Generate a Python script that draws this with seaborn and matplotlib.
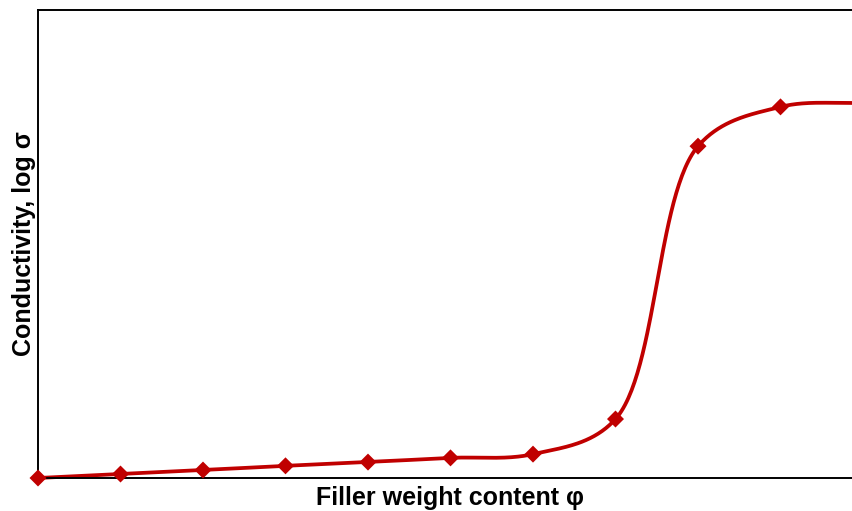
import numpy as np
import pandas as pd
import matplotlib
matplotlib.use("Agg")
import matplotlib.pyplot as plt
import seaborn as sns

# Data
filler = [0, 1, 2, 3, 4, 5, 6, 7, 8, 9, 10]
log_sigma = [0.0, 0.085, 0.17, 0.26, 0.34, 0.43, 0.51, 1.26, 7.09, 7.93, 8.02]
xlabel = "Filler weight content φ"
ylabel = "Conductivity, log σ"

sns.set_theme(style="white")
plt.rcParams['font.family'] = ['Liberation Sans', 'DejaVu Sans']

def centripetal_cr(x, y, sx=82.5, sy=46.8, n=60, alpha=0.5):
    P = np.column_stack([np.asarray(x, float)*sx, np.asarray(y, float)*sy])
    P = np.vstack([2*P[0]-P[1], P, 2*P[-1]-P[-2]])
    out = []
    for i in range(1, len(P)-2):
        p0, p1, p2, p3 = P[i-1], P[i], P[i+1], P[i+2]
        t0 = 0.0
        t1 = t0 + np.linalg.norm(p1-p0)**alpha
        t2 = t1 + np.linalg.norm(p2-p1)**alpha
        t3 = t2 + np.linalg.norm(p3-p2)**alpha
        t = np.linspace(t1, t2, n, endpoint=False)[:, None]
        a1 = (t1-t)/(t1-t0)*p0 + (t-t0)/(t1-t0)*p1
        a2 = (t2-t)/(t2-t1)*p1 + (t-t1)/(t2-t1)*p2
        a3 = (t3-t)/(t3-t2)*p2 + (t-t2)/(t3-t2)*p3
        b1 = (t2-t)/(t2-t0)*a1 + (t-t0)/(t2-t0)*a2
        b2 = (t3-t)/(t3-t1)*a2 + (t-t1)/(t3-t1)*a3
        c = (t2-t)/(t2-t1)*b1 + (t-t1)/(t2-t1)*b2
        out.append(c)
    out.append(P[-2][None, :])
    out = np.vstack(out)
    return out[:, 0]/sx, out[:, 1]/sy

cx, cy = centripetal_cr(filler, log_sigma)
curve = pd.DataFrame({"x": cx, "y": cy})
pts = pd.DataFrame({"x": filler, "y": log_sigma})

W, H = 853, 511
fig = plt.figure(figsize=(W/100, H/100), dpi=100)
left, right, top, bottom = 38, 863, 10, 478
ax = fig.add_axes([left/W, 1-bottom/H, (right-left)/W, (bottom-top)/H])

sns.lineplot(data=curve, x="x", y="y", sort=False, color="#C00000", linewidth=2.7, ax=ax, clip_on=False)
sns.scatterplot(data=pts, x="x", y="y", marker="D", s=75, color="#C00000", edgecolor="none", ax=ax, clip_on=False, zorder=5)

ax.set_xlim(0, 10)
ax.set_ylim(0, 10)
ax.set_xticks([]); ax.set_yticks([])
for s in ["left", "bottom", "top", "right"]:
    ax.spines[s].set_visible(True)
    ax.spines[s].set_color("black")
    ax.spines[s].set_linewidth(1.4)
ax.set_xlabel(xlabel, fontsize=18, fontweight="bold", color="black", labelpad=6)
ax.set_ylabel(ylabel, fontsize=18, fontweight="bold", color="black", labelpad=1.5)

fig.savefig("out.png", dpi=100)
